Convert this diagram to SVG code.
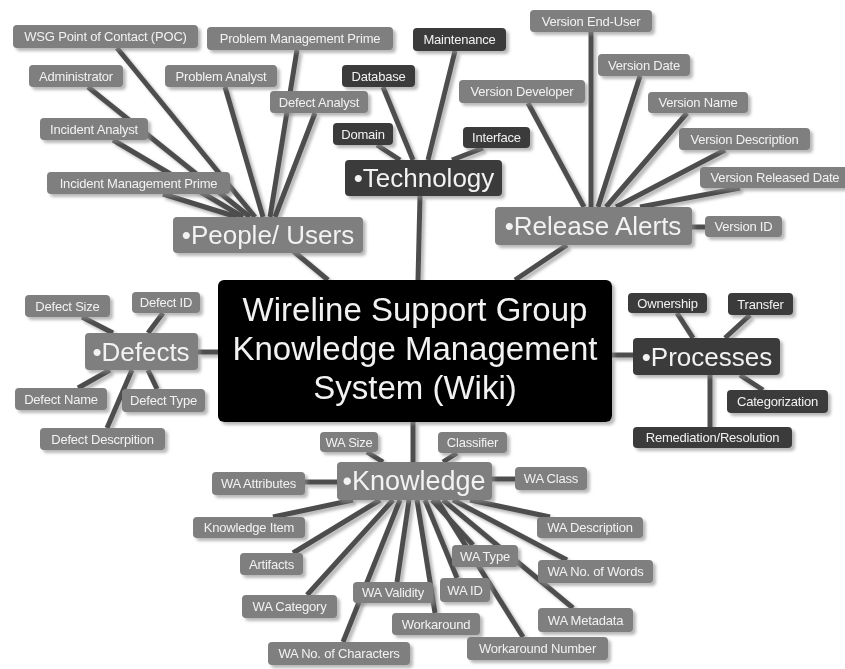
<svg xmlns="http://www.w3.org/2000/svg" width="845" height="669" viewBox="0 0 845 669">
<defs>
<filter id="sh" x="-10%" y="-20%" width="130%" height="160%">
<feDropShadow dx="3" dy="3" stdDeviation="1.5" flood-color="#8a8a8a" flood-opacity="0.6"/>
</filter>
<style>
.g rect{fill:#7f7f7f;}
.d rect{fill:#3b3b3b;}
rect{rx:4;ry:4;}
text{font-family:"Liberation Sans",Arial,sans-serif;fill:#f2f2f2;text-anchor:middle;}
.s text{font-size:13px;letter-spacing:-0.2px;}
.h text{font-size:26px;}
#conn line{stroke:#4e4e4e;stroke-width:5;stroke-linecap:butt;}
</style>
</defs>
<rect x="0" y="0" width="845" height="669" style="fill:#ffffff;rx:0;ry:0"/>
<g id="conn" filter="url(#sh)">
<!-- People -->
<line x1="117" y1="48" x2="255" y2="217"/>
<line x1="88" y1="87" x2="250" y2="217"/>
<line x1="113" y1="140" x2="243" y2="217"/>
<line x1="163" y1="194" x2="237" y2="217"/>
<line x1="225" y1="87" x2="263" y2="217"/>
<line x1="297" y1="50" x2="270" y2="217"/>
<line x1="315" y1="113" x2="275" y2="217"/>
<line x1="292" y1="250" x2="328" y2="280"/>
<!-- Technology -->
<line x1="383" y1="87" x2="413" y2="160"/>
<line x1="377" y1="145" x2="400" y2="160"/>
<line x1="455" y1="51" x2="428" y2="160"/>
<line x1="483" y1="148" x2="452" y2="160"/>
<line x1="420" y1="196" x2="418" y2="280"/>
<!-- Release Alerts -->
<line x1="528" y1="103" x2="584" y2="207"/>
<line x1="591" y1="32" x2="591" y2="207"/>
<line x1="640" y1="76" x2="598" y2="207"/>
<line x1="687" y1="113" x2="606" y2="207"/>
<line x1="725" y1="150" x2="616" y2="207"/>
<line x1="740" y1="188" x2="640" y2="207"/>
<line x1="692" y1="227" x2="705" y2="227"/>
<line x1="567" y1="245" x2="515" y2="280"/>
<!-- Defects -->
<line x1="82" y1="317" x2="113" y2="333"/>
<line x1="163" y1="313" x2="148" y2="333"/>
<line x1="78" y1="388" x2="110" y2="370"/>
<line x1="157" y1="389" x2="148" y2="370"/>
<line x1="107" y1="428" x2="132" y2="370"/>
<line x1="198" y1="352" x2="218" y2="352"/>
<!-- Processes -->
<line x1="677" y1="313" x2="693" y2="338"/>
<line x1="750" y1="315" x2="725" y2="338"/>
<line x1="763" y1="390" x2="740" y2="375"/>
<line x1="710" y1="375" x2="710" y2="427"/>
<line x1="612" y1="355" x2="633" y2="355"/>
<!-- Knowledge -->
<line x1="413" y1="422" x2="413" y2="462"/>
<line x1="367" y1="452" x2="383" y2="462"/>
<line x1="457" y1="453" x2="443" y2="462"/>
<line x1="305" y1="482" x2="337" y2="482"/>
<line x1="492" y1="479" x2="515" y2="479"/>
<line x1="273" y1="517" x2="353" y2="500"/>
<line x1="550" y1="517" x2="470" y2="500"/>
<line x1="293" y1="553" x2="380" y2="500"/>
<line x1="307" y1="595" x2="393" y2="500"/>
<line x1="343" y1="642" x2="400" y2="500"/>
<line x1="397" y1="582" x2="409" y2="500"/>
<line x1="435" y1="613" x2="417" y2="500"/>
<line x1="457" y1="578" x2="425" y2="500"/>
<line x1="473" y1="545" x2="432" y2="500"/>
<line x1="523" y1="637" x2="437" y2="500"/>
<line x1="573" y1="608" x2="443" y2="500"/>
<line x1="567" y1="560" x2="453" y2="500"/>
</g>
<g filter="url(#sh)">
<g id="center"><rect x="218" y="280" width="394" height="142" style="fill:#000;rx:6;ry:6"/>
<text x="415" y="321" style="font-size:33px">Wireline Support Group</text>
<text x="415" y="360" style="font-size:33px">Knowledge Management</text>
<text x="415" y="399" style="font-size:33px">System (Wiki)</text></g>

<g id="people" class="g h"><rect x="173" y="217" width="190" height="36"/><text x="268" y="244">•People/ Users</text></g>
<g id="technology" class="d h"><rect x="345" y="160" width="157" height="36"/><text x="424" y="187">•Technology</text></g>
<g id="release" class="g h"><rect x="495" y="207" width="197" height="38"/><text x="593" y="235">•Release Alerts</text></g>
<g id="defects" class="g h"><rect x="85" y="333" width="113" height="37"/><text x="141" y="361">•Defects</text></g>
<g id="processes" class="d h"><rect x="633" y="338" width="147" height="37"/><text x="707" y="366">•Processes</text></g>
<g id="knowledge" class="g h"><rect x="337" y="462" width="155" height="38"/><text x="414" y="490" style="font-size:27px">•Knowledge</text></g>

<g id="wsg" class="g s"><rect x="13" y="25" width="185" height="23"/><text x="105.5" y="41">WSG Point of Contact (POC)</text></g>
<g id="pmp" class="g s"><rect x="207" y="27" width="186" height="23"/><text x="300" y="43">Problem Management Prime</text></g>
<g id="admin" class="g s"><rect x="29" y="65" width="94" height="22"/><text x="76" y="80.5">Administrator</text></g>
<g id="pa" class="g s"><rect x="165" y="65" width="112" height="22"/><text x="221" y="80.5">Problem Analyst</text></g>
<g id="da" class="g s"><rect x="270" y="91" width="98" height="22"/><text x="319" y="106.5">Defect Analyst</text></g>
<g id="ia" class="g s"><rect x="40" y="118" width="108" height="22"/><text x="94" y="133.5">Incident Analyst</text></g>
<g id="imp" class="g s"><rect x="47" y="172" width="183" height="22"/><text x="138.5" y="187.5">Incident Management Prime</text></g>

<g id="database" class="d s"><rect x="342" y="65" width="73" height="22"/><text x="378.5" y="80.5">Database</text></g>
<g id="maintenance" class="d s"><rect x="413" y="28" width="93" height="23"/><text x="459.5" y="44">Maintenance</text></g>
<g id="domain" class="d s"><rect x="333" y="123" width="60" height="22"/><text x="363" y="138.5">Domain</text></g>
<g id="interface" class="d s"><rect x="463" y="127" width="67" height="21"/><text x="496.5" y="142">Interface</text></g>

<g id="veu" class="g s"><rect x="530" y="10" width="122" height="22"/><text x="591" y="25.5">Version End-User</text></g>
<g id="vdate" class="g s"><rect x="598" y="54" width="92" height="22"/><text x="644" y="69.5">Version Date</text></g>
<g id="vdev" class="g s"><rect x="459" y="80" width="126" height="23"/><text x="522" y="96">Version Developer</text></g>
<g id="vname" class="g s"><rect x="648" y="92" width="100" height="21"/><text x="698" y="107">Version Name</text></g>
<g id="vdesc" class="g s"><rect x="679" y="128" width="131" height="22"/><text x="744.5" y="143.5">Version Description</text></g>
<g id="vrd" class="g s"><rect x="700" y="167" width="150" height="21"/><text x="775" y="182">Version Released Date</text></g>
<g id="vid" class="g s"><rect x="705" y="216" width="77" height="21"/><text x="743.5" y="231">Version ID</text></g>

<g id="dsize" class="g s"><rect x="25" y="295" width="85" height="22"/><text x="67.5" y="310.5">Defect Size</text></g>
<g id="did" class="g s"><rect x="132" y="292" width="68" height="21"/><text x="166" y="307">Defect ID</text></g>
<g id="dname" class="g s"><rect x="15" y="388" width="92" height="22"/><text x="61" y="403.5">Defect Name</text></g>
<g id="dtype" class="g s"><rect x="122" y="389" width="83" height="23"/><text x="163.5" y="405">Defect Type</text></g>
<g id="ddesc" class="g s"><rect x="40" y="428" width="125" height="22"/><text x="102.5" y="443.5">Defect Descrpition</text></g>

<g id="ownership" class="d s"><rect x="628" y="293" width="79" height="20"/><text x="667.5" y="307.5">Ownership</text></g>
<g id="transfer" class="d s"><rect x="728" y="293" width="65" height="22"/><text x="760.5" y="308.5">Transfer</text></g>
<g id="categorization" class="d s"><rect x="727" y="390" width="101" height="23"/><text x="777.5" y="406">Categorization</text></g>
<g id="remediation" class="d s"><rect x="633" y="427" width="159" height="21"/><text x="712.5" y="442">Remediation/Resolution</text></g>

<g id="wasize" class="g s"><rect x="320" y="432" width="58" height="20"/><text x="349" y="446.5">WA Size</text></g>
<g id="classifier" class="g s"><rect x="438" y="432" width="69" height="21"/><text x="472.5" y="447">Classifier</text></g>
<g id="waattr" class="g s"><rect x="212" y="472" width="93" height="23"/><text x="258.5" y="488">WA Attributes</text></g>
<g id="waclass" class="g s"><rect x="515" y="467" width="72" height="23"/><text x="551" y="483">WA Class</text></g>
<g id="kitem" class="g s"><rect x="193" y="517" width="112" height="21"/><text x="249" y="532">Knowledge Item</text></g>
<g id="wadesc" class="g s"><rect x="537" y="517" width="106" height="21"/><text x="590" y="532">WA Description</text></g>
<g id="artifacts" class="g s"><rect x="240" y="553" width="63" height="22"/><text x="271.5" y="568.5">Artifacts</text></g>
<g id="watype" class="g s"><rect x="452" y="545" width="66" height="22"/><text x="485" y="560.5">WA Type</text></g>
<g id="wawords" class="g s"><rect x="538" y="560" width="115" height="23"/><text x="595.5" y="576">WA No. of Words</text></g>
<g id="wacat" class="g s"><rect x="242" y="595" width="95" height="23"/><text x="289.5" y="611">WA Category</text></g>
<g id="wavalid" class="g s"><rect x="353" y="582" width="80" height="21"/><text x="393" y="597">WA Validity</text></g>
<g id="waid" class="g s"><rect x="440" y="578" width="50" height="24"/><text x="465" y="594.5">WA ID</text></g>
<g id="workaround" class="g s"><rect x="392" y="613" width="88" height="22"/><text x="436" y="628.5">Workaround</text></g>
<g id="wameta" class="g s"><rect x="538" y="608" width="95" height="24"/><text x="585.5" y="624.5">WA Metadata</text></g>
<g id="wachars" class="g s"><rect x="268" y="642" width="142" height="23"/><text x="339" y="658">WA No. of Characters</text></g>
<g id="wanum" class="g s"><rect x="467" y="637" width="141" height="23"/><text x="537.5" y="653">Workaround Number</text></g>
</g>
</svg>
